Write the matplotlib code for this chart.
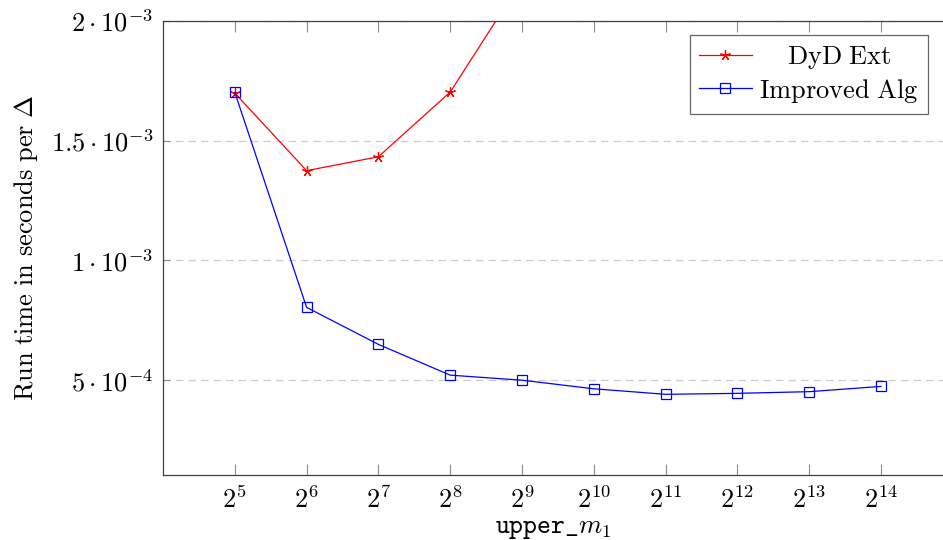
import matplotlib
matplotlib.use("Agg")
import matplotlib.pyplot as plt
import numpy as np

plt.rcParams['mathtext.fontset'] = 'cm'
plt.rcParams['font.family'] = ['DejaVu Serif']

# data
exponents = [5, 6, 7, 8, 9, 10, 11, 12, 13, 14]
x_values = [2 ** e for e in exponents]
x_ticklabels = [r'$2^{%d}$' % e for e in exponents]

dyd_x = [2 ** 5, 2 ** 6, 2 ** 7, 2 ** 8, 2 ** 9]
dyd_ext = [1.699e-3, 1.375e-3, 1.433e-3, 1.703e-3, 2.17e-3]

improved_alg = [1.702e-3, 0.804e-3, 0.6495e-3, 0.521e-3, 0.500e-3,
                0.464e-3, 0.441e-3, 0.445e-3, 0.452e-3, 0.474e-3]

y_ticks = [5e-4, 1e-3, 1.5e-3, 2e-3]
y_ticklabels = [r'$5\cdot10^{-4}$', r'$1\cdot10^{-3}$', r'$1.5\cdot10^{-3}$', r'$2\cdot10^{-3}$']

FS = 19

fig = plt.figure(figsize=(9.43, 5.40), dpi=100)
ax = fig.add_axes([163 / 943, 1 - 475 / 540, (943 - 163) / 943, (475 - 21) / 540])

ax.plot(dyd_x, dyd_ext, color='#ff0000', lw=0.9, marker=(5, 2, 0), ms=7.5,
        mew=0.9, label=r'$\mathrm{DyD\ Ext}$', zorder=3)
ax.plot(x_values, improved_alg, color='#0000ff', lw=0.9, marker='s', ms=7.8,
        mfc='none', mec='#0000ff', mew=0.9, label=r'$\mathrm{Improved\ Alg}$', zorder=3)

ax.set_xscale('log', base=2)
ax.set_xlim(2 ** 4, 2 ** 14.864)
ax.set_ylim(1.04e-4, 2e-3)
ax.set_xticks(x_values)
ax.set_xticklabels(x_ticklabels)
ax.xaxis.set_minor_locator(matplotlib.ticker.NullLocator())
ax.set_yticks(y_ticks)
ax.set_yticklabels(y_ticklabels)

ax.tick_params(axis='x', which='major', direction='in', length=7.7, width=0.8,
               color='0.55', top=True, bottom=True, labelsize=FS, pad=8)
ax.tick_params(axis='y', which='major', direction='in', length=5, width=0.8,
               color='0.55', left=True, right=False, labelsize=FS, pad=7)

ax.grid(axis='y', color='#cccccc', linestyle=(0, (6, 4)), lw=0.9, zorder=0)
ax.set_axisbelow(True)

for s in ['left', 'bottom', 'top']:
    ax.spines[s].set_color('0.25')
    ax.spines[s].set_linewidth(0.9)
ax.spines['right'].set_visible(False)

ax.set_xlabel(r'$\mathtt{upper\_}m_1$', fontsize=FS, labelpad=2)
ax.set_ylabel(r'$\mathrm{Run\ time\ in\ seconds\ per\ }\Delta$', fontsize=FS, labelpad=8)

leg = ax.legend(loc='upper right', bbox_to_anchor=(0.981, 0.969), borderaxespad=0,
                fontsize=FS, frameon=True, fancybox=False, edgecolor='0.25',
                handlelength=2.0, handletextpad=0.3, borderpad=0.35, labelspacing=0.2)
leg.get_frame().set_linewidth(0.9)

fig.canvas.draw()
texts = leg.get_texts()
r = fig.canvas.get_renderer()
w0 = texts[0].get_window_extent(r).width
w1 = texts[1].get_window_extent(r).width
texts[0].set_x((w1 - w0) / 2)

fig.savefig('out.png', dpi=100)
